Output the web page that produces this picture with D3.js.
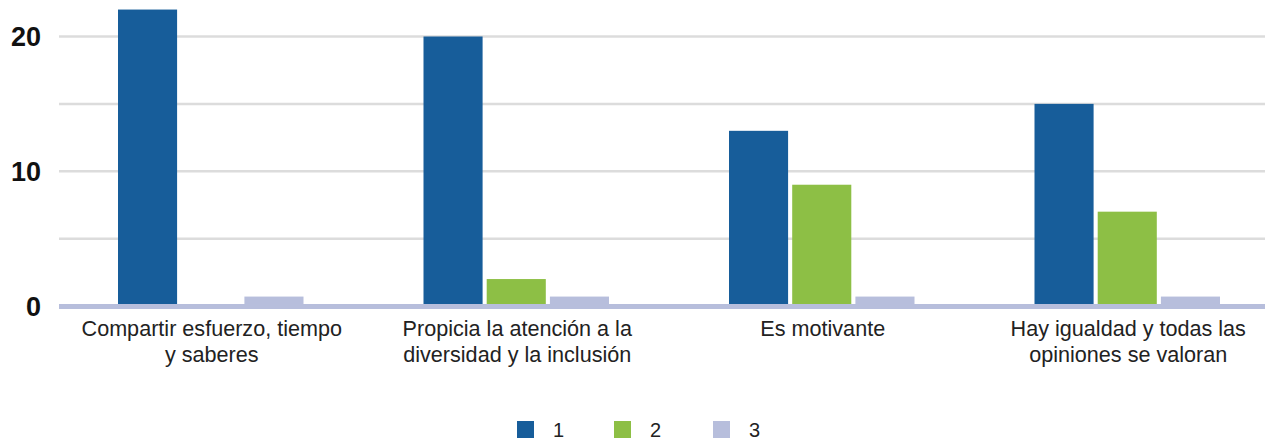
<!DOCTYPE html>
<html lang="es">
<head>
<meta charset="UTF-8">
<title>Grouped bars</title>
<script src="https://d3js.org/d3.v7.min.js"></script>
<style>
  body { margin: 0; background: #fff; }
  svg { display: block; font-family: "Liberation Sans", Arial, sans-serif; }
  .ylab { font-size: 27px; font-weight: bold; fill: #111; }
  .xlab { font-size: 21.6px; fill: #222; }
  .leg { font-size: 20px; fill: #222; }
</style>
</head>
<body>
<svg id="chart" width="1265" height="440"></svg>
<script>
// data
let categories = [
  ["Compartir esfuerzo, tiempo", "y saberes"],
  ["Propicia la atención a la", "diversidad y la inclusión"],
  ["Es motivante"],
  ["Hay igualdad y todas las", "opiniones se valoran"]
]
let seriesNames = ["1", "2", "3"]
let serie1 = [22, 20, 13, 15]
let serie2 = [0, 2, 9, 7]
let serie3 = [0.7, 0.7, 0.7, 0.7]
let yTicks = [0, 10, 20]
let gridTicks = [5, 10, 15, 20]

let colors = ["#175d9a", "#8dbf45", "#b7bedc"]
let allSeries = [serie1, serie2, serie3]

let svg = d3.select('#chart')

let x0 = d3.scaleBand()
  .domain(d3.range(categories.length))
  .range([59, 1281])
  .paddingInner(0)
  .paddingOuter(0)

let x1 = d3.scaleBand()
  .domain(d3.range(seriesNames.length))
  .range([59, x0.bandwidth() - 61])
  .paddingInner(0.065)

let y = d3.scaleLinear().domain([0, 20]).range([306, 36.5])

// grid lines
svg.append('g').selectAll('line')
  .data(gridTicks)
  .enter()
  .append('line')
  .attr('x1', 59)
  .attr('x2', 1265)
  .attr('y1', d => y(d))
  .attr('y2', d => y(d))
  .attr('stroke', '#dcdcdc')
  .attr('stroke-width', 2.5)

// bars
categories.forEach((c, i) => {
  let g = svg.append('g').attr('transform', 'translate(' + x0(i) + ',0)')
  g.selectAll('rect')
    .data(allSeries.map(s => s[i]))
    .enter()
    .append('rect')
    .attr('x', (d, j) => x1(j))
    .attr('width', x1.bandwidth())
    .attr('y', d => y(d))
    .attr('height', d => Math.max(0, y(0) - y(d)))
    .attr('fill', (d, j) => colors[j])
})

// baseline
svg.append('rect')
  .attr('x', 59)
  .attr('width', 1265 - 59)
  .attr('y', y(0) - 2)
  .attr('height', 5)
  .attr('fill', '#b7bedc')

// y labels
svg.append('g').selectAll('text')
  .data(yTicks)
  .enter()
  .append('text')
  .attr('class', 'ylab')
  .attr('x', 41)
  .attr('y', d => y(d))
  .attr('dy', '0.36em')
  .attr('text-anchor', 'end')
  .text(d => d)

// x labels
categories.forEach((lines, i) => {
  let t = svg.append('text')
    .attr('class', 'xlab')
    .attr('text-anchor', 'middle')
    .attr('x', x0(i) + x0.bandwidth() / 2)
    .attr('y', 336)
  lines.forEach((l, k) => {
    t.append('tspan')
      .attr('x', x0(i) + x0.bandwidth() / 2)
      .attr('dy', k === 0 ? 0 : 25.5)
      .text(l)
  })
})

// legend
let legX = [517, 614, 713]
let leg = svg.append('g').selectAll('g')
  .data(seriesNames)
  .enter()
  .append('g')
  .attr('transform', (d, j) => 'translate(' + legX[j] + ',421)')
leg.append('rect')
  .attr('width', 17)
  .attr('height', 17)
  .attr('fill', (d, j) => colors[j])
leg.append('text')
  .attr('class', 'leg')
  .attr('x', 36)
  .attr('y', 16)
  .text(d => d)
</script>
</body>
</html>
